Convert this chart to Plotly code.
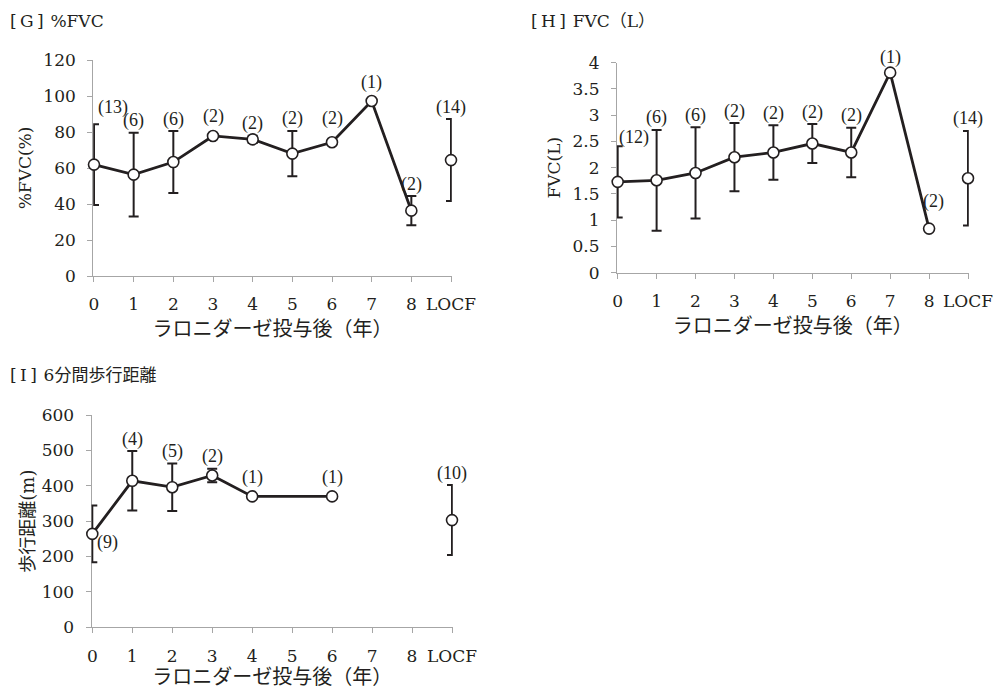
import plotly.graph_objects as go

# ---------------- data ----------------
years = [0, 1, 2, 3, 4, 5, 6, 7, 8]
tick_text = ["0", "1", "2", "3", "4", "5", "6", "7", "8", "LOCF"]
locf_x = 9

g_mean = [61.9, 56.3, 63.3, 77.8, 75.9, 68.0, 74.3, 97.2, 36.3]
g_err = [22.4, 23.3, 17.2, None, 2.0, 12.6, None, None, 8.1]
g_n = [13, 6, 6, 2, 2, 2, 2, 1, 2]
g_locf_mean, g_locf_err, g_locf_n = 64.4, 22.8, 14

h_mean = [1.73, 1.76, 1.90, 2.20, 2.29, 2.46, 2.29, 3.81, 0.84]
h_err = [0.68, 0.96, 0.87, 0.65, 0.52, 0.37, 0.47, None, None]
h_n = [12, 6, 6, 2, 2, 2, 2, 1, 2]
h_locf_mean, h_locf_err, h_locf_n = 1.80, 0.90, 14

i_years = [0, 1, 2, 3, 4, 6]
i_mean = [264, 414, 396, 429, 370, 370]
i_err = [80, 84, 67, 19, None, None]
i_n = [9, 4, 5, 2, 1, 1]
i_locf_mean, i_locf_err, i_locf_n = 303, 99, 10

# ---------------- style ----------------
PAGE_OFF = 8            # default body margin of the html page
W, H = 1003 - PAGE_OFF, 689 - PAGE_OFF
INK = "#231f20"
AXC = "#a6a6a6"
SERIF = "'DejaVu Serif', 'Noto Sans CJK JP', serif"
LSERIF = "'Liberation Serif', serif"
TICK_SIZE = 17
LABEL_SIZE = 18
XTITLE_SIZE = 20

fig = go.Figure()


def add_panel(ax, xs, mean, err, n, lmean, lerr, ln, overrides):
    xa = "x" if ax == 1 else f"x{ax}"
    ya = "y" if ax == 1 else f"y{ax}"
    errv = [e if e is not None else float("nan") for e in err]
    fig.add_trace(go.Scatter(
        x=xs, y=mean, xaxis=xa, yaxis=ya, mode="lines+markers",
        line=dict(color=INK, width=2.8),
        marker=dict(size=11, color="white", line=dict(color=INK, width=1.6)),
        error_y=dict(type="data", array=errv, visible=True, color=INK,
                     thickness=2, width=5),
        cliponaxis=False, showlegend=False, hoverinfo="skip"))
    fig.add_trace(go.Scatter(
        x=[locf_x], y=[lmean], xaxis=xa, yaxis=ya, mode="markers",
        marker=dict(size=11, color="white", line=dict(color=INK, width=1.6)),
        error_y=dict(type="data", array=[lerr], visible=True, color=INK,
                     thickness=2, width=5),
        cliponaxis=False, showlegend=False, hoverinfo="skip"))
    allx = list(xs) + [locf_x]
    ally = list(mean) + [lmean]
    alle = list(err) + [lerr]
    alln = list(n) + [ln]
    for k, (x, y, e, nn) in enumerate(zip(allx, ally, alle, alln)):
        top = y + e if e is not None else y
        ys = 12 if e is not None else 19
        xs_ = 0
        if k in overrides:
            xs_, ys, at_mean = overrides[k]
            if at_mean:
                top = y
        fig.add_annotation(
            x=x, y=top, xref=xa, yref=ya, text=f"({nn})", showarrow=False,
            xshift=xs_, yshift=ys, xanchor="center", yanchor="middle",
            font=dict(family=LSERIF, size=LABEL_SIZE, color=INK))


add_panel(1, years, g_mean, g_err, g_n, g_locf_mean, g_locf_err, g_locf_n,
          {0: (19, 17, False), 6: (0, 24, False)})
add_panel(2, years, h_mean, h_err, h_n, h_locf_mean, h_locf_err, h_locf_n,
          {0: (16, 9, False), 7: (0, 15, False), 8: (4, 27, False)})
add_panel(3, i_years, i_mean, i_err, i_n, i_locf_mean, i_locf_err, i_locf_n,
          {0: (15, -9, True)})


def xdom(a, b):
    return [(a - PAGE_OFF) / W, (b - PAGE_OFF) / W]


def ydom(top, bottom):
    return [1 - (bottom - PAGE_OFF) / H, 1 - (top - PAGE_OFF) / H]


xaxis_common = dict(
    range=[-0.02, 9.02], tickmode="array", tickvals=list(range(10)),
    ticktext=tick_text, showline=True, linecolor=AXC, linewidth=1,
    ticks="outside", ticklen=5, tickcolor=AXC, tickwidth=1,
    showgrid=False, zeroline=False, layer="below traces", automargin=False,
    ticklabelstandoff=8,
    tickfont=dict(family=SERIF, size=TICK_SIZE, color=INK),
    title=dict(text="ラロニダーゼ投与後（年）", standoff=8,
               font=dict(family=SERIF, size=XTITLE_SIZE, color=INK)),
)
yaxis_common = dict(
    showline=True, linecolor=AXC, linewidth=1, ticks="outside", ticklen=5,
    tickcolor=AXC, tickwidth=1, showgrid=False, zeroline=False,
    layer="below traces", automargin=False, ticklabelstandoff=8,
    tickfont=dict(family=SERIF, size=TICK_SIZE, color=INK),
)

fig.update_layout(
    width=W, height=H, margin=dict(l=0, r=0, t=0, b=0),
    paper_bgcolor="white", plot_bgcolor="white",
    xaxis=dict(xaxis_common, domain=xdom(93.2, 451.8), anchor="y"),
    yaxis=dict(yaxis_common, domain=ydom(60, 276), anchor="x", range=[0, 120],
               dtick=20,
               title=dict(text="%FVC(%)", standoff=7,
                          font=dict(family=SERIF, size=17, color=INK))),
    xaxis2=dict(xaxis_common, domain=xdom(616.9, 968.8), anchor="y2"),
    yaxis2=dict(yaxis_common, domain=ydom(62.7, 272.7), anchor="x2", range=[0, 4],
                dtick=0.5,
                title=dict(text="FVC(L)", standoff=7,
                           font=dict(family=SERIF, size=17, color=INK))),
    xaxis3=dict(xaxis_common, domain=xdom(91.5, 452.8), anchor="y3"),
    yaxis3=dict(yaxis_common, domain=ydom(415, 627.3), anchor="x3", range=[0, 600],
                dtick=100,
                title=dict(text="歩行距離(m)", standoff=2,
                           font=dict(family=SERIF, size=18, color=INK))),
)

TSP = "\u2009"
panel_titles = [(f"[{TSP}G{TSP}]{TSP}{TSP}%FVC", 8, 21),
                (f"[{TSP}H{TSP}]{TSP}{TSP}FVC（L）", 529, 21),
                (f"[{TSP}I{TSP}]{TSP}{TSP}6分間歩行距離", 8, 375)]
for txt, px, py in panel_titles:
    fig.add_annotation(x=(px - PAGE_OFF) / W, y=1 - (py - PAGE_OFF) / H,
                       xref="paper", yref="paper",
                       text=txt, showarrow=False, xanchor="left",
                       yanchor="middle",
                       font=dict(family=SERIF, size=17, color=INK))

fig.write_html("out.html")
